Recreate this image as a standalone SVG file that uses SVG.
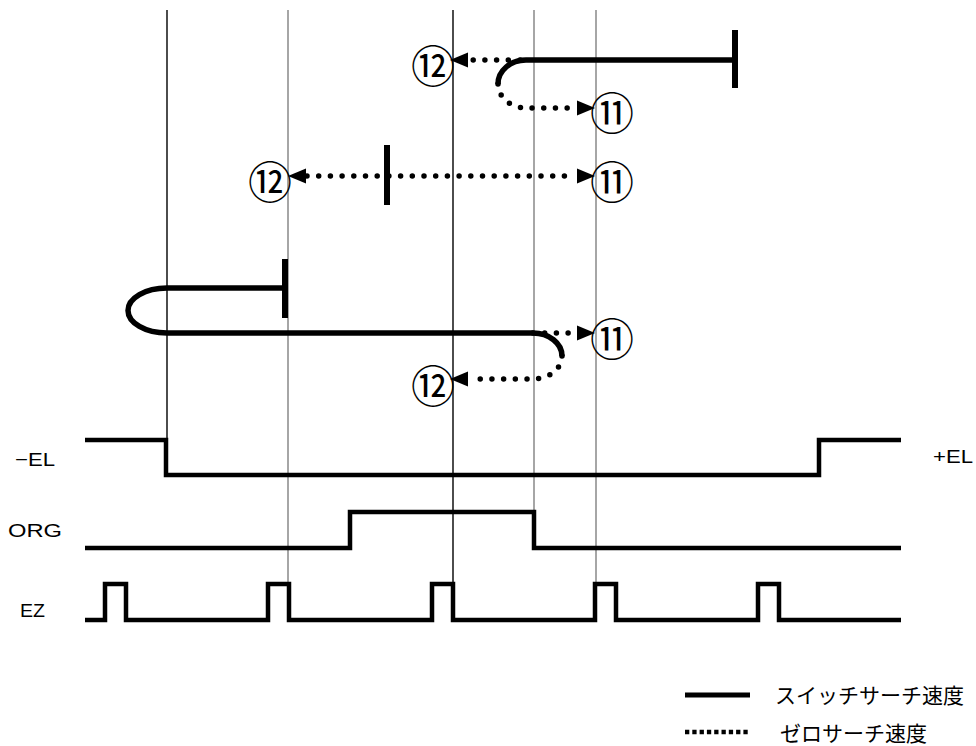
<svg xmlns="http://www.w3.org/2000/svg" width="976" height="746" viewBox="0 0 976 746">
<style>
.grid{stroke-width:1.4;fill:none}
.gk{stroke:#000}
.gg{stroke:#808080}
.sig{stroke:#000;stroke-width:4.5;fill:none;stroke-linejoin:miter;stroke-linecap:butt}
.sol{stroke:#000;stroke-width:5.5;fill:none}
.dot{stroke:#000;stroke-width:5.5;fill:none;stroke-dasharray:0 11.7;stroke-linecap:round}
.bar{stroke:#000;stroke-width:6}
.lbl{font-family:"Liberation Sans",Arial,sans-serif;font-size:18.5px;fill:#000}
.num{font-family:"Noto Sans CJK JP","Noto Sans",sans-serif;font-size:44px;fill:#000;text-anchor:middle;dominant-baseline:central}
.leg{font-family:"Noto Sans CJK JP",sans-serif;font-size:21px;fill:#000;dominant-baseline:central}
.ah{fill:#000}
.stub{stroke:#000;stroke-width:0.1}
</style>
<defs>
<marker id="arr" markerUnits="userSpaceOnUse" markerWidth="19" markerHeight="18" refX="18" refY="9" orient="auto">
<path d="M0,1.5 L18,9 L0,16.5 Z" class="ah"/>
</marker>
</defs>
<g id="gridlines">
<line class="grid gk" x1="167" y1="10" x2="167" y2="440"/>
<line class="grid gg" x1="288" y1="10" x2="288" y2="584"/>
<line class="grid gk" x1="453" y1="10" x2="453" y2="584"/>
<line class="grid gg" x1="534" y1="10" x2="534" y2="512"/>
<line class="grid gg" x1="596" y1="10" x2="596" y2="584"/>
</g>
<g id="signal-minusEL">
<path class="sig" d="M85,440 H166 V475 H819 V440 H901"/>
<text class="lbl" x="15" y="466" textLength="40" lengthAdjust="spacingAndGlyphs">−EL</text>
<text class="lbl" x="933" y="463" textLength="40" lengthAdjust="spacingAndGlyphs">+EL</text>
</g>
<g id="signal-ORG">
<path class="sig" d="M85,548 H350 V512 H534 V548 H901"/>
<text class="lbl" x="8" y="537" textLength="54" lengthAdjust="spacingAndGlyphs">ORG</text>
</g>
<g id="signal-EZ">
<path class="sig" d="M85,620 H105 V584 H126 V620 H268 V584 H289 V620 H432 V584 H453 V620 H595 V584 H616 V620 H758 V584 H779 V620 H901"/>
<text class="lbl" x="20" y="617" textLength="25" lengthAdjust="spacingAndGlyphs">EZ</text>
</g>
<g id="connectors">
<path class="sol" d="M735,60 H526 A28,24 0 0 0 498,84"/>
<line class="bar" x1="735" y1="30" x2="735" y2="88"/>
<path class="dot" d="M498,84 A28,24 0 0 0 526,108 H576"/>
<path class="stub" d="M577,108 H595" marker-end="url(#arr)"/>
<path class="dot" d="M520,60 H472"/>
<path class="stub" d="M468,60 H450" marker-end="url(#arr)"/>
<path class="dot" d="M307,176 H576"/>
<line class="bar" x1="387" y1="145" x2="387" y2="205"/>
<path class="stub" d="M577,176 H595" marker-end="url(#arr)"/>
<path class="stub" d="M306,176 H288" marker-end="url(#arr)"/>
<path class="sol" d="M285,288 H167 A39,22.5 0 0 0 167,333 H533 A29,23 0 0 1 562,356"/>
<line class="bar" x1="285" y1="259" x2="285" y2="318"/>
<path class="dot" d="M533,333 H576"/>
<path class="stub" d="M577,333 H595" marker-end="url(#arr)"/>
<path class="dot" d="M562,356 A29,23 0 0 1 533,379 H472"/>
<path class="stub" d="M468,379 H450" marker-end="url(#arr)"/>
</g>
<g id="labels">
<text class="num" x="433" y="64">⑫</text>
<text class="num" x="612" y="111">⑪</text>
<text class="num" x="270" y="180">⑫</text>
<text class="num" x="612" y="180">⑪</text>
<text class="num" x="612" y="337">⑪</text>
<text class="num" x="433" y="384">⑫</text>
</g>
<g id="legend">
<line x1="685" y1="695" x2="750" y2="695" stroke="#000" stroke-width="5"/>
<text class="leg" x="775" y="694">スイッチサーチ速度</text>
<line x1="685" y1="732" x2="750" y2="732" stroke="#000" stroke-width="4.5" stroke-dasharray="4.3 3"/>
<text class="leg" x="780" y="732">ゼロサーチ速度</text>
</g>
</svg>
